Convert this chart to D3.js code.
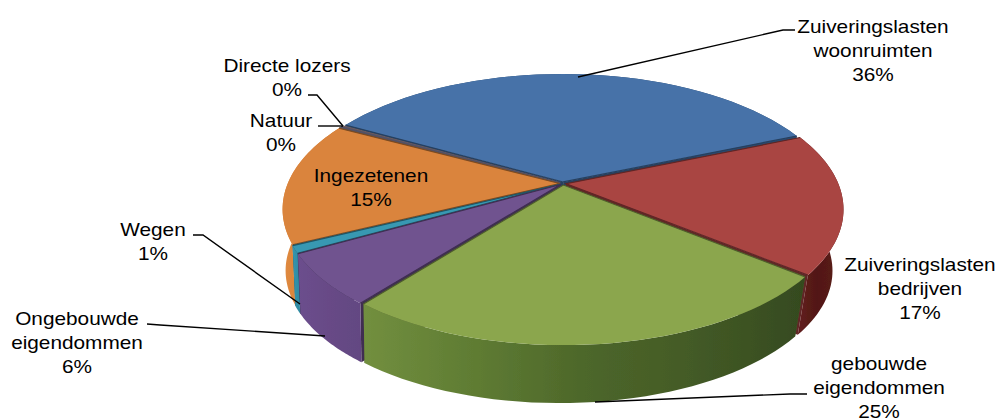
<!DOCTYPE html>
<html>
<head>
<meta charset="utf-8">
<script src="https://cdn.jsdelivr.net/npm/d3@7"></script>
<style>
  html, body { margin: 0; padding: 0; background: #fff; }
  text { font-family: "Liberation Sans", Arial, sans-serif; font-size: 19px; fill: #000; text-anchor: middle; }
</style>
</head>
<body>
<script>
const width = 997;
const height = 419;

// data
const categories = ["Zuiveringslasten woonruimten", "Zuiveringslasten bedrijven", "gebouwde eigendommen",
    "Ongebouwde eigendommen", "Wegen", "Ingezetenen", "Natuur", "Directe lozers"];
const values = [35.7, 17.0, 25.0, 6.2, 0.9, 14.9, 0.15, 0.15];
const percentLabels = ["36%", "17%", "25%", "6%", "1%", "15%", "0%", "0%"];

// slice colours: top face, then side gradient left to right
const topColors = ["#4672a8", "#a94543", "#8ba64e", "#70538f", "#3898b2", "#da843d", "#8f8fb5", "#c0a0a0"];
const sideColors = [
    ["#2a4a70", "#2a4a70"],
    ["#6a211f", "#511816", "#5d1c1a"],
    ["#728f3f", "#5f7c33", "#4d672a", "#435a26", "#354a1f"],
    ["#6c4e8d", "#674a86", "#634782"],
    ["#3596ae", "#2f88a0"],
    ["#e08a40", "#c9772f"],
    ["#777", "#777"],
    ["#888", "#888"]
];

// label layout
const labelLines = [
    ["Zuiveringslasten", "woonruimten"], ["Zuiveringslasten", "bedrijven"], ["gebouwde", "eigendommen"],
    ["Ongebouwde", "eigendommen"], ["Wegen"], ["Ingezetenen"], ["Natuur"], ["Directe lozers"]
];
const labelX = [873, 920, 879, 77, 153, 371, 281, 287];
const labelY = [33, 271, 370, 325, 236, 182, 127, 72];
const lineHeight = 24.2;
const labelStretch = 1.095;
const leaders = [
    [[578, 77], [783, 30], [795, 30]],
    null,
    [[595, 402], [790, 394], [807, 394]],
    [[325, 336], [160, 325], [147, 324]],
    [[300, 304], [203, 235], [193, 235]],
    null,
    [[343, 126], [318, 126]],
    [[343, 126], [317, 95], [308, 95]]
];

// perspective of the pie
const cx = 563, cy = 183.5;
const radiusX = 272, radiusY = 129, persp = 0.19;
const depth = 62, bottomScale = 0.975, bottomShift = -4, explode = 0.012;

function project(u, v, z) {
    const s = 1 / (1 - persp * v);
    const shrink = 1 - (1 - bottomScale) * z;
    return [cx + bottomShift * z + radiusX * shrink * u * s, cy + depth * z + radiusY * shrink * v * s];
}

const svg = d3.select("body").append("svg")
    .attr("width", width)
    .attr("height", height)
    .style("display", "block");

const defs = svg.append("defs");
defs.append("filter").attr("id", "soft")
    .append("feGaussianBlur").attr("stdDeviation", 0.5);

const startAngle = -61.1 * Math.PI / 180;
const arcs = d3.pie().sort(null).value(d => d)
    .startAngle(startAngle).endAngle(startAngle + 2 * Math.PI)(values);

const line = d3.line();
const pieGroup = svg.append("g").attr("filter", "url(#soft)");

function arcPoints(d, z) {
    const mid = (d.startAngle + d.endAngle) / 2;
    const ox = explode * Math.sin(mid), oy = -explode * Math.cos(mid);
    return d3.range(0, 41).map(i => {
        const a = d.startAngle + (d.endAngle - d.startAngle) * i / 40;
        return project(ox + Math.sin(a), oy - Math.cos(a), z);
    });
}
function tipPoint(d, z) {
    const mid = (d.startAngle + d.endAngle) / 2;
    return project(explode * Math.sin(mid), -explode * Math.cos(mid), z);
}

// back slices first, front slices last
const order = arcs.map((d, i) => i).sort((a, b) => {
    const f = d => -Math.cos((d.startAngle + d.endAngle) / 2);
    return f(arcs[a]) - f(arcs[b]);
});

order.forEach(i => {
    const d = arcs[i];
    const top = arcPoints(d, 0);
    const bottom = arcPoints(d, 1);
    const extent = d3.extent(top.concat(bottom), p => p[0]);
    const dark = d3.color(topColors[i]).darker(1.6);

    const grad = defs.append("linearGradient")
        .attr("id", "side" + i)
        .attr("gradientUnits", "userSpaceOnUse")
        .attr("x1", extent[0]).attr("x2", extent[1]).attr("y1", 0).attr("y2", 0);
    sideColors[i].forEach((c, k) => {
        grad.append("stop")
            .attr("offset", k / (sideColors[i].length - 1))
            .attr("stop-color", c);
    });

    // the two cut walls, seen through the gaps
    [0, top.length - 1].forEach(k => {
        pieGroup.append("path")
            .attr("d", line([tipPoint(d, 0), top[k], bottom[k], tipPoint(d, 1)]) + "Z")
            .attr("fill", dark);
    });

    pieGroup.append("path")
        .attr("d", line(top.concat(bottom.slice().reverse())) + "Z")
        .attr("fill", "url(#side" + i + ")");

    pieGroup.append("path")
        .attr("d", line([tipPoint(d, 0)].concat(top)) + "Z")
        .attr("fill", topColors[i]);

    // dark edges where the slice meets its neighbours
    pieGroup.append("path")
        .attr("d", line([top[0], tipPoint(d, 0), top[top.length - 1]]))
        .attr("fill", "none")
        .attr("stroke", dark)
        .attr("stroke-width", 1.2);
});

// leader lines
leaders.forEach(pts => {
    if (!pts) return;
    svg.append("path")
        .attr("d", line(pts))
        .attr("fill", "none")
        .attr("stroke", "#000")
        .attr("stroke-width", 1.4);
});

// labels
categories.forEach((name, i) => {
    const t = svg.append("text")
        .attr("aria-label", name)
        .attr("transform", `translate(${labelX[i]},0) scale(${labelStretch},1)`);
    labelLines[i].concat(percentLabels[i]).forEach((s, k) => {
        t.append("tspan")
            .attr("x", 0)
            .attr("y", labelY[i] + k * lineHeight)
            .text(s);
    });
});
</script>
</body>
</html>
